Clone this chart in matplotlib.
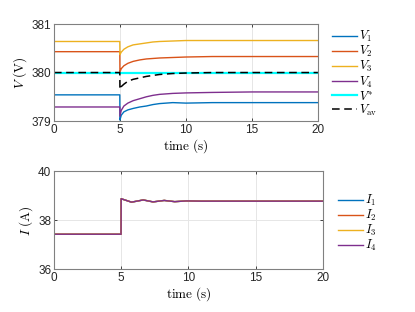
import matplotlib
matplotlib.use("Agg")
import matplotlib.pyplot as plt

plt.rcParams["mathtext.fontset"] = "cm"
plt.rcParams["font.family"] = ["Liberation Sans", "DejaVu Sans"]

# voltage traces, time in seconds
t_v = [0, 4.99, 5.0, 5.1, 5.3, 5.6, 6.0, 6.5, 7.0, 7.5, 8.0, 9.0, 10.0, 12.0, 15.0, 20.0]
V1 = [379.54, 379.54, 379.02, 379.12, 379.19, 379.23, 379.26, 379.29, 379.31, 379.34, 379.36, 379.38, 379.37, 379.38, 379.38, 379.38]
V2 = [380.43, 380.43, 380.01, 380.08, 380.14, 380.19, 380.23, 380.26, 380.28, 380.29, 380.30, 380.31, 380.32, 380.33, 380.33, 380.33]
V3 = [380.64, 380.64, 380.37, 380.42, 380.48, 380.53, 380.57, 380.59, 380.61, 380.63, 380.64, 380.65, 380.66, 380.66, 380.66, 380.66]
V4 = [379.29, 379.29, 379.10, 379.22, 379.31, 379.37, 379.42, 379.46, 379.50, 379.53, 379.55, 379.57, 379.58, 379.59, 379.60, 379.60]
V_ref = [380.0] * len(t_v)
V_av = [380.0, 380.0, 379.65, 379.71, 379.76, 379.82, 379.86, 379.89, 379.92, 379.94, 379.96, 379.98, 379.99, 380.0, 380.0, 380.0]

# current traces
t_i = [0, 4.99, 5.0, 5.05, 5.77, 6.64, 7.37, 8.2, 8.98, 9.85, 11.0, 15.0, 20.0]
I_all = [37.43, 37.43, 38.88, 38.87, 38.74, 38.83, 38.75, 38.81, 38.76, 38.79, 38.78, 38.78, 38.78]
I1 = I_all
I2 = I_all
I3 = I_all
I4 = I_all

colors = ["#0072BD", "#D95319", "#EDB120", "#7E2F8E"]
edge = "#808080"


def style_axes(ax):
    ax.set_xlim(0, 20)
    ax.set_xticks([0, 5, 10, 15, 20])
    ax.grid(True, color="#e6e6e6", linewidth=0.7)
    ax.set_axisbelow(True)
    ax.tick_params(direction="in", length=2.5, labelsize=8.5, colors="#262626",
                   top=True, right=True, width=0.6, pad=2)
    for s in ax.spines.values():
        s.set_color(edge)
        s.set_linewidth(0.8)
    ax.set_xlabel(r"$\mathrm{time\ (s)}$", fontsize=9.5, labelpad=1)


leg_kw = dict(loc="upper left", frameon=False, fontsize=9, handlelength=2.0,
              handletextpad=0.15, labelspacing=0.0, borderaxespad=0)

fig = plt.figure(figsize=(4.15, 3.12), dpi=100)

ax1 = fig.add_axes([0.130, 0.612, 0.636, 0.311])
lw = 1.0
for v, c, lab in zip([V1, V2, V3, V4], colors, [r"$V_1$", r"$V_2$", r"$V_3$", r"$V_4$"]):
    ax1.plot(t_v, v, color=c, linewidth=lw, label=lab)
ax1.plot(t_v, V_ref, color="#00FFFF", linewidth=1.6, label=r"$V^{*}$")
ax1.plot(t_v, V_av, color="black", linestyle=(0, (5, 3)), linewidth=1.1, label=r"$V_{\rm av}$")
ax1.set_ylim(379, 381)
ax1.set_yticks([379, 380, 381])
style_axes(ax1)
ax1.set_ylabel(r"$V\ \mathrm{(V)}$", fontsize=9.5, labelpad=2)
ax1.legend(bbox_to_anchor=(1.034, 1.0), **leg_kw)

ax2 = fig.add_axes([0.130, 0.137, 0.648, 0.314])
for v, c, lab in zip([I1, I2, I3, I4], colors, [r"$I_1$", r"$I_2$", r"$I_3$", r"$I_4$"]):
    ax2.plot(t_i, v, color=c, linewidth=lw, label=lab)
ax2.set_ylim(36, 40)
ax2.set_yticks([36, 38, 40])
style_axes(ax2)
ax2.set_ylabel(r"$I\ \mathrm{(A)}$", fontsize=9.5, labelpad=2)
ax2.legend(bbox_to_anchor=(1.037, 0.83), **leg_kw)

fig.savefig("out.png", dpi=100)
